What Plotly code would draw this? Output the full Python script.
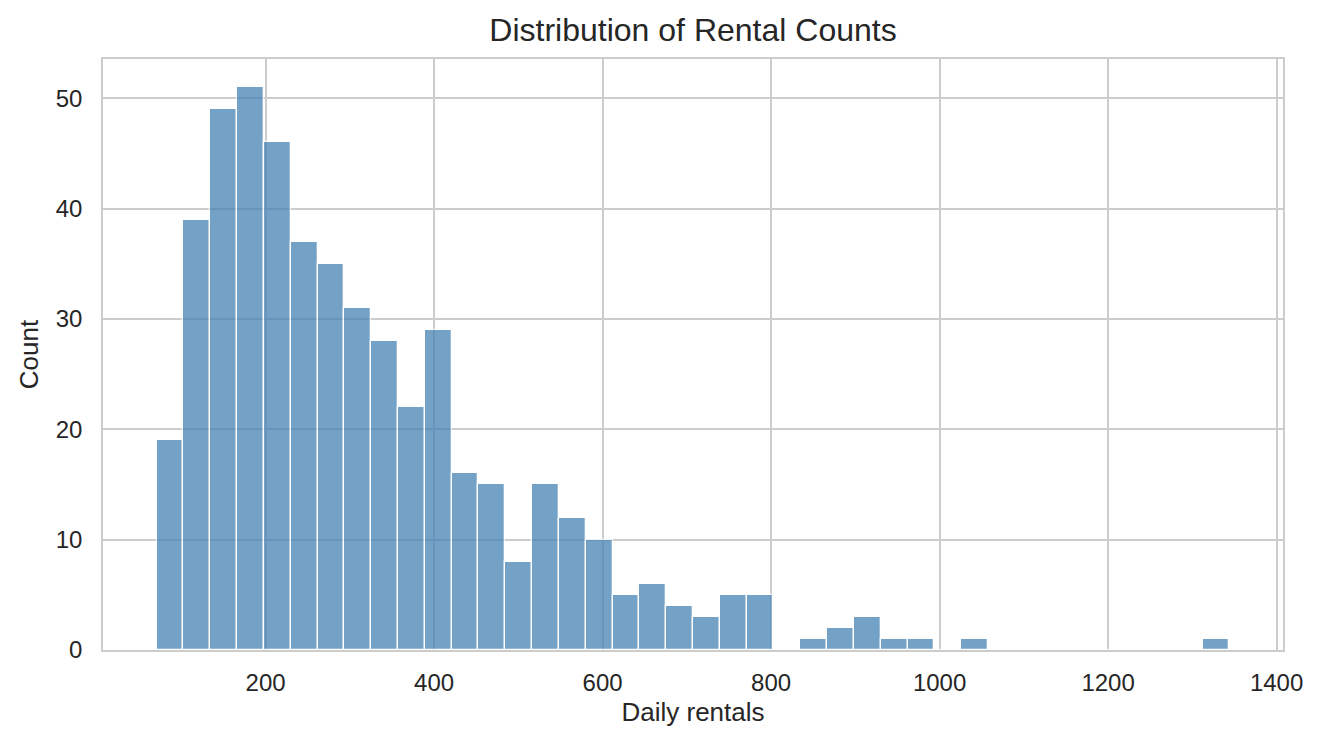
import plotly.graph_objects as go

# histogram bins (40 equal bins)
bin_start = 70.7
bin_width = 31.83
counts = [19, 39, 49, 51, 46, 37, 35, 31, 28, 22,
          29, 16, 15, 8, 15, 12, 10, 5, 6, 4,
          3, 5, 5, 0, 1, 2, 3, 1, 1, 0,
          1, 0, 0, 0, 0, 0, 0, 0, 0, 1]
x_ticks = [200, 400, 600, 800, 1000, 1200, 1400]
y_ticks = [0, 10, 20, 30, 40, 50]

centers = [bin_start + bin_width * (i + 0.5) for i in range(len(counts))]

fig = go.Figure()
fig.add_trace(go.Bar(
    x=centers, y=counts, width=bin_width,
    marker=dict(color="steelblue", line=dict(color="white", width=1.3)),
    opacity=0.75,
    showlegend=False,
))

font = "Liberation Sans, Arial, sans-serif"
fig.update_layout(
    width=1324, height=747,
    # page body adds ~7px offset, so margins are trimmed on top/left
    margin=dict(l=95, r=49, t=51, b=105),
    paper_bgcolor="white", plot_bgcolor="white",
    font=dict(family=font, color="#262626"),
    bargap=0,
    title=dict(text="Distribution of Rental Counts", x=0.5, xref="paper",
               y=0.971, yanchor="middle", font=dict(size=32, color="#262626")),
)

fig.update_xaxes(
    range=[7, 1407.6], tickvals=x_ticks, tickfont=dict(size=24),
    showgrid=True, gridcolor="#cccccc", gridwidth=1.6,
    showline=True, mirror=True, linecolor="#cccccc", linewidth=1.6,
    zeroline=False, ticks="", ticklabelstandoff=10, automargin=False,
    title=dict(text="Daily rentals", font=dict(size=26), standoff=8),
)
fig.update_yaxes(
    range=[0, 53.55], tickvals=y_ticks, tickfont=dict(size=24),
    showgrid=True, gridcolor="#cccccc", gridwidth=1.6,
    showline=True, mirror=True, linecolor="#cccccc", linewidth=1.6,
    zeroline=False, ticks="", ticklabelstandoff=14, automargin=False,
    title=dict(text="Count", font=dict(size=26), standoff=10),
)

fig.write_html("out.html")
